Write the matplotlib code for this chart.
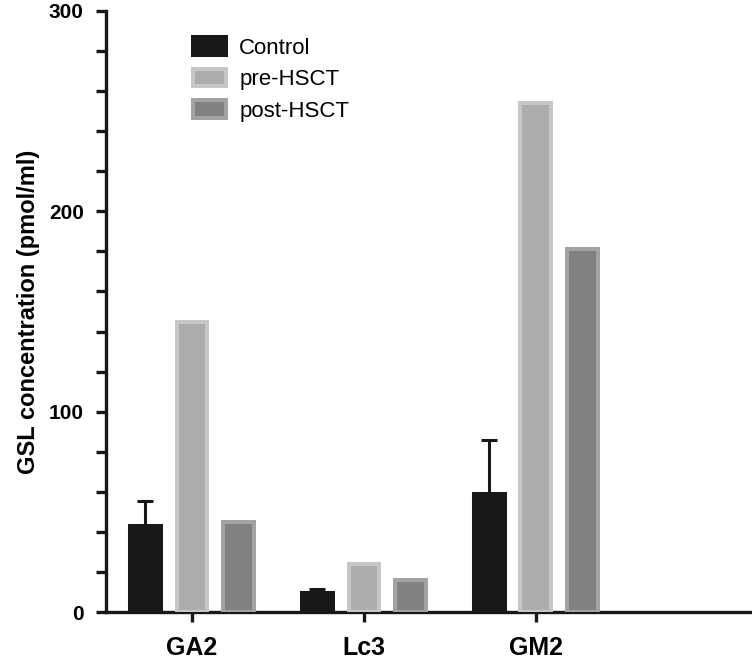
import numpy as np
import matplotlib.pyplot as plt
from matplotlib.patches import Patch

# data
categories = ['GA2', 'Lc3', 'GM2']
control = [43, 9.5, 59]
control_err = [12.5, 2, 27]
pre_hsct = [145, 24, 254]
post_hsct = [45, 16, 181]

plt.rcParams['font.family'] = ['Liberation Sans', 'DejaVu Sans']

fig = plt.figure(figsize=(7.52, 6.66), dpi=100)
ax = fig.add_axes([106 / 752, 54 / 666, 646 / 752, 601 / 666])

x = np.arange(len(categories))
w = 0.18
off = 0.273
lw = 2.9

ax.bar(x - off, control, w, color='#181818', edgecolor='#181818', linewidth=lw, zorder=3)
ax.bar(x, pre_hsct, w, color='#adadad', edgecolor='#c6c6c6', linewidth=lw, zorder=3)
ax.bar(x + off, post_hsct, w, color='#828282', edgecolor='#a3a3a3', linewidth=lw, zorder=3)
ax.errorbar(x - off, control, yerr=[np.zeros(3), control_err], fmt='none',
            ecolor='#181818', elinewidth=2.2, capsize=6, capthick=2.2, zorder=2)

ax.set_xlim(-0.5, 3.256)
ax.set_ylim(0, 300)
ax.set_yticks([0, 100, 200, 300])
ax.set_yticks(np.arange(0, 301, 20), minor=True)
ax.set_xticks(x)
ax.set_xticklabels(categories, fontsize=18, fontweight='bold')
for t in ax.get_yticklabels():
    t.set_fontweight('bold')
    t.set_fontsize(15)

for s in ['top', 'right']:
    ax.spines[s].set_visible(False)
for s in ['left', 'bottom']:
    ax.spines[s].set_linewidth(2.4)
    ax.spines[s].set_color('#181818')
ax.tick_params(axis='y', which='both', width=2.4, length=7, color='#181818', pad=9)
ax.tick_params(axis='x', width=2.4, length=7, color='#181818', pad=10)
ax.set_ylabel('GSL concentration (pmol/ml)', fontsize=17, fontweight='bold', labelpad=6)

handles = [Patch(facecolor='#181818', edgecolor='#181818', linewidth=lw),
           Patch(facecolor='#adadad', edgecolor='#c6c6c6', linewidth=lw),
           Patch(facecolor='#828282', edgecolor='#a3a3a3', linewidth=lw)]
ax.legend(handles, ['Control', 'pre-HSCT', 'post-HSCT'], loc='upper left',
          bbox_to_anchor=(0.103, 0.99), frameon=False, fontsize=16,
          handlelength=1.5, handleheight=0.85, handletextpad=0.6, labelspacing=0.45)

fig.savefig('out.png', dpi=100)
